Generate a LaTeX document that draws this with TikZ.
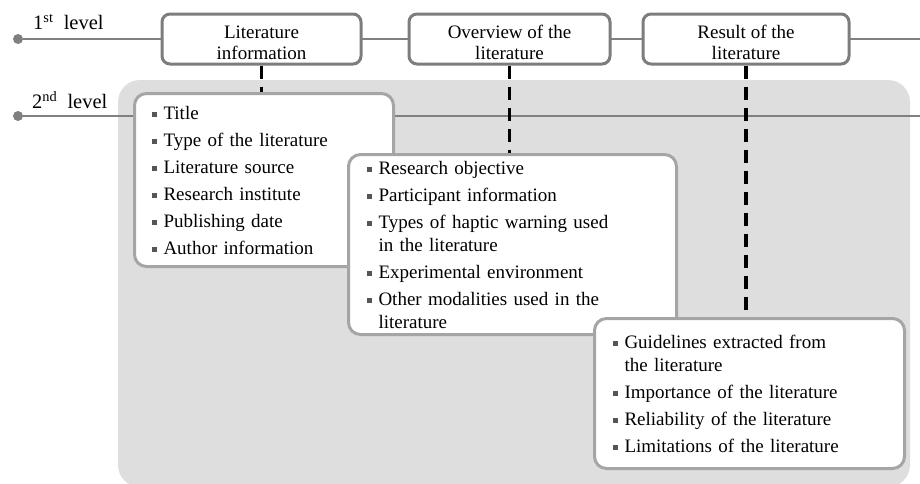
\documentclass[tikz,border=0pt]{standalone}
\usepackage{fontspec}
\setmainfont{Liberation Serif}
\definecolor{linegray}{RGB}{128,128,128}
\definecolor{boxgray}{RGB}{125,125,125}
\definecolor{listgray}{RGB}{165,165,165}
\definecolor{bggray}{RGB}{222,222,222}
\definecolor{bulletgray}{RGB}{85,85,85}
\newcommand{\bul}{\makebox[12pt][l]{\textcolor{bulletgray}{\rule[2.5pt]{5pt}{5pt}}}}
\newcommand{\cont}{\hspace*{12pt}}
\begin{document}
\begin{tikzpicture}[x=1pt,y=-1pt,
		font=\fontsize{19}{23}\selectfont,
		levelline/.style={draw=linegray,line width=2.5pt},
		leveldot/.style={circle,fill=linegray,minimum size=10pt,inner sep=0pt},
		topbox/.style={draw=boxgray,line width=3pt,fill=white,rounded corners=8pt,minimum height=50pt,inner sep=0pt},
		toplabel/.style={align=center,inner sep=0pt,font=\fontsize{19}{21}\selectfont},
		listbox/.style={draw=listgray,line width=3pt,fill=white,rounded corners=12pt,
			align=left,anchor=north west,inner ysep=0pt},
		dashlink/.style={line width=3.5pt,dash pattern=on 13pt off 8pt}]
		\useasboundingbox (0,0) rectangle (920,483);
		
		% second level background
		\fill[bggray,rounded corners=22pt] (118,80) rectangle (910,487);
		
		% level lines
		\node[leveldot] (dot1) at (18,39) {};
		\node[leveldot] (dot2) at (18,116) {};
		\coordinate (end1) at (920,39);
		\coordinate (end2) at (920,116);
		\draw[levelline] (dot1) -- (end1);
		\draw[levelline] (dot2) -- (end2);
		\node[anchor=west,inner sep=0pt,font=\fontsize{20.5}{24}\selectfont] (lvl1) at (33,22) {1\textsuperscript{st}\ \ level};
		\node[anchor=west,inner sep=0pt,font=\fontsize{20.5}{24}\selectfont] (lvl2) at (32,100) {2\textsuperscript{nd}\ \ level};
		
		% first level
		\node[topbox,minimum width=199pt] (info) at (261.5,39) {};
		\node[topbox,minimum width=201pt] (over) at (509.5,39) {};
		\node[topbox,minimum width=206pt] (res) at (746,39) {};
		\node[toplabel] (infotext) at ([yshift=-3.5pt]info.center) {Literature\\information};
		\node[toplabel] (overtext) at ([yshift=-3.5pt]over.center) {Overview of the\\literature};
		\node[toplabel] (restext) at ([yshift=-3.5pt]res.center) {Result of the\\literature};
		
		% second level
		\node[listbox,text width=225pt,inner xsep=17pt,minimum height=173pt] (infolist) at (133,92) {%
			\bul Title\\[4pt]
			\bul Type of the literature\\[4pt]
			\bul Literature source\\[4pt]
			\bul Research institute\\[4pt]
			\bul Publishing date\\[4pt]
			\bul Author information};
		\node[listbox,text width=292pt,inner xsep=18pt,minimum height=180pt] (overlist) at (347,153) {%
			\bul Research objective\\[4pt]
			\bul Participant information\\[4pt]
			\bul Types of haptic warning used\\
			\cont in the literature\\[4pt]
			\bul Experimental environment\\[4pt]
			\bul Other modalities used in the\\
			\cont literature};
		\node[listbox,text width=274pt,inner xsep=18pt,minimum height=150pt] (reslist) at (593,317) {%
			\bul Guidelines extracted from\\
			\cont the literature\\[4pt]
			\bul Importance of the literature\\[4pt]
			\bul Reliability of the literature\\[4pt]
			\bul Limitations of the literature};
		
		\draw[dashlink] (info.south) -- (info.south |- infolist.north);
		\draw[dashlink] (over.south) -- (over.south |- overlist.north);
		\draw[dashlink] (res.south) -- (res.south |- reslist.north);
	\end{tikzpicture}
\end{document}
